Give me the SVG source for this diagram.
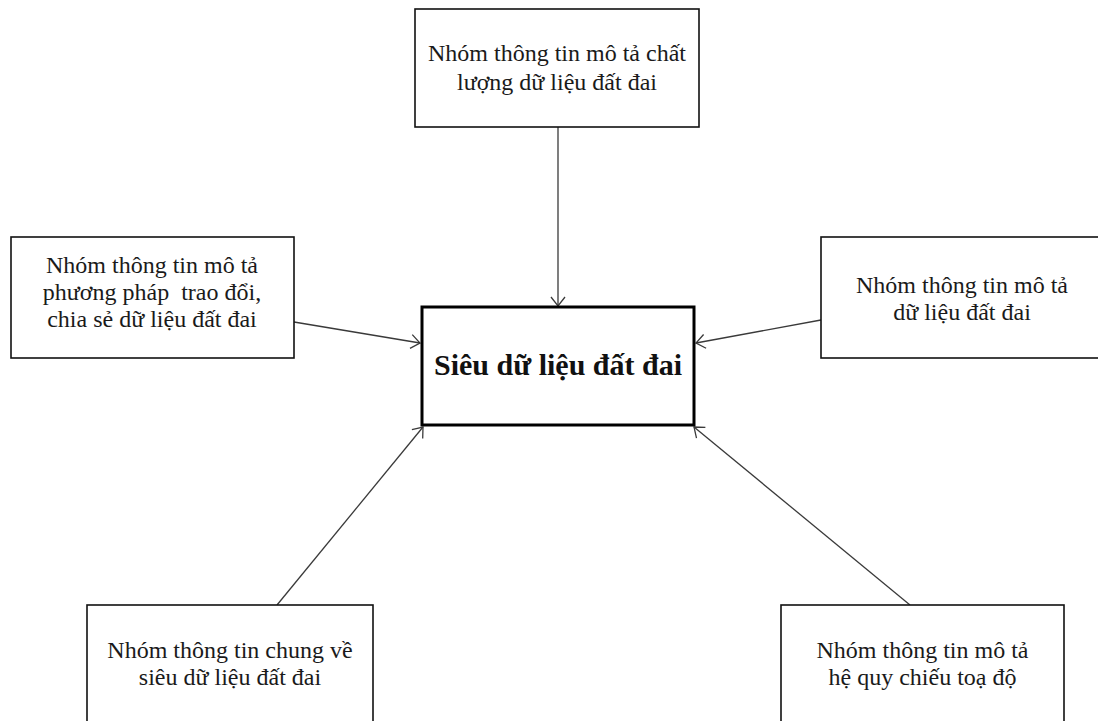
<svg xmlns="http://www.w3.org/2000/svg" width="1098" height="721" viewBox="0 0 1098 721">
<style>
.box{fill:#fff;stroke:#111;stroke-width:1.6}
.main{fill:#fff;stroke:#000;stroke-width:3}
.t{font-family:"Liberation Serif","Times New Roman",serif;font-size:24px;fill:#1a1a1a;text-anchor:middle;white-space:pre}
.tb{font-family:"Liberation Serif","Times New Roman",serif;font-size:30px;font-weight:bold;fill:#111;text-anchor:middle}
.c{stroke:#3a3a3a;stroke-width:1.3;fill:none;marker-end:url(#arr)}
</style>
<defs>
<marker id="arr" markerUnits="userSpaceOnUse" markerWidth="14" markerHeight="16" viewBox="0 0 14 16" refX="12" refY="8" orient="auto">
<path d="M3,1 L12,8 L3,15" fill="none" stroke="#3a3a3a" stroke-width="1.3"/>
</marker>
</defs>
<rect width="1098" height="721" fill="#fff"/>
<g id="connectors">
<line class="c" x1="558" y1="127" x2="558" y2="306"/>
<line class="c" x1="294" y1="322" x2="420" y2="343"/>
<line class="c" x1="821" y1="320" x2="696" y2="343"/>
<line class="c" x1="277" y1="605" x2="423" y2="427"/>
<line class="c" x1="910" y1="605" x2="694" y2="427"/>
</g>
<g id="node-quality">
<rect class="box" x="415" y="9" width="284" height="118"/>
<text class="t" x="557" y="61">Nhóm thông tin mô tả chất</text>
<text class="t" x="557" y="90">lượng dữ liệu đất đai</text>
</g>
<g id="node-exchange">
<rect class="box" x="11" y="237" width="283" height="121"/>
<text class="t" x="152" y="273">Nhóm thông tin mô tả</text>
<text class="t" x="152" y="300">phương pháp  trao đổi,</text>
<text class="t" x="152" y="327">chia sẻ dữ liệu đất đai</text>
</g>
<g id="node-data">
<rect class="box" x="821" y="237" width="290" height="121"/>
<text class="t" x="962" y="293">Nhóm thông tin mô tả</text>
<text class="t" x="962" y="320">dữ liệu đất đai</text>
</g>
<g id="node-center">
<rect class="main" x="422" y="307" width="272" height="118"/>
<text class="tb" x="558" y="375">Siêu dữ liệu đất đai</text>
</g>
<g id="node-general">
<rect class="box" x="87" y="605" width="286" height="130"/>
<text class="t" x="230" y="658">Nhóm thông tin chung về</text>
<text class="t" x="230" y="685">siêu dữ liệu đất đai</text>
</g>
<g id="node-crs">
<rect class="box" x="781" y="605" width="283" height="130"/>
<text class="t" x="922.5" y="658">Nhóm thông tin mô tả</text>
<text class="t" x="922.5" y="685">hệ quy chiếu toạ độ</text>
</g>
</svg>
